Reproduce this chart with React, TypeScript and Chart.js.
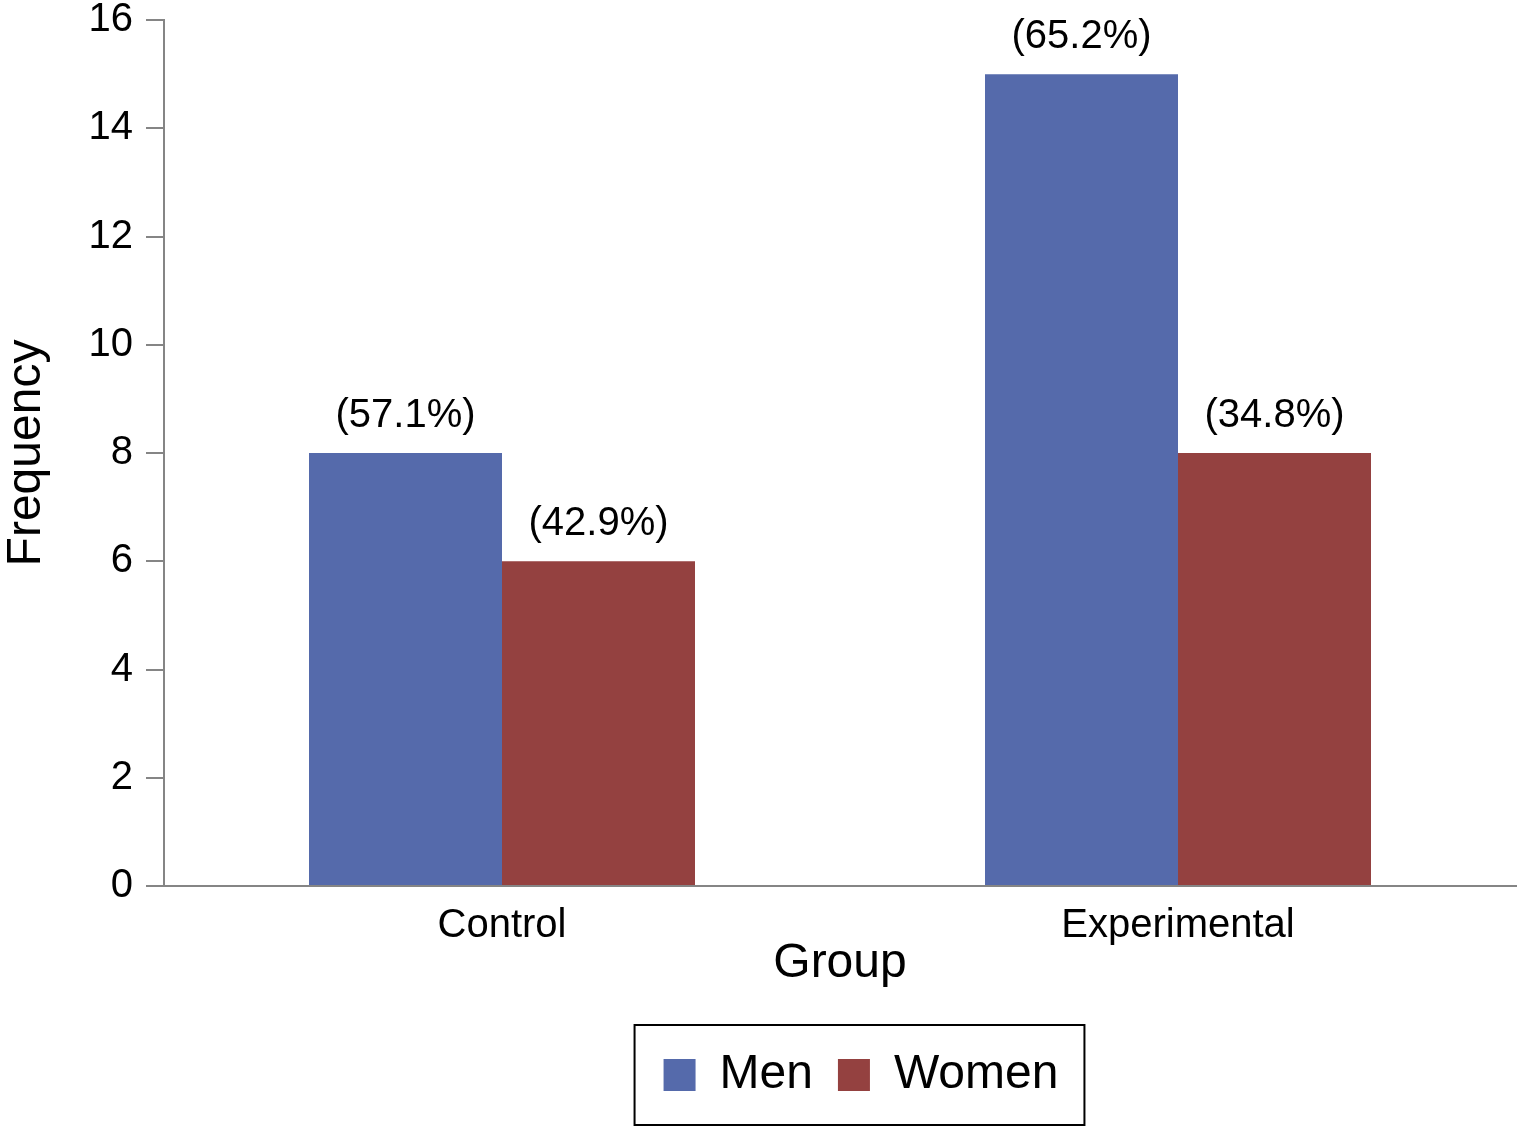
import React, { useEffect, useRef } from 'react';
import { Chart, registerables } from 'chart.js';

Chart.register(...registerables);

const categories = ['Control', 'Experimental'];
const menValues = [8, 15];
const womenValues = [6, 8];
const menPct = ['(57.1%)', '(65.2%)'];
const womenPct = ['(42.9%)', '(34.8%)'];
const seriesNames = ['Men', 'Women'];

const FONT = "'Liberation Sans', Arial, Helvetica, sans-serif";
const AXIS_GRAY = '#858585';

const dataLabelPlugin = {
  id: 'pctLabels',
  afterDatasetsDraw(chart: any) {
    const ctx = chart.ctx;
    ctx.save();
    ctx.font = `40px ${FONT}`;
    ctx.fillStyle = '#000';
    ctx.textAlign = 'center';
    ctx.textBaseline = 'alphabetic';
    chart.data.datasets.forEach((ds: any, i: number) => {
      const meta = chart.getDatasetMeta(i);
      meta.data.forEach((bar: any, j: number) => {
        ctx.fillText(ds.pctLabels[j], bar.x, bar.y - 26);
      });
    });
    ctx.restore();
  },
};

const legendFramePlugin = {
  id: 'legendFrame',
  afterLayout(chart: any) {
    const l = chart.legend;
    if (l) {
      l.left += 21;
      l.right += 21;
    }
  },
  afterDraw(chart: any) {
    const l = chart.legend;
    if (!l || !l.legendHitBoxes || !l.legendHitBoxes.length) return;
    const hb = l.legendHitBoxes;
    const left = Math.min(...hb.map((h: any) => h.left)) - 29;
    const right = Math.max(...hb.map((h: any) => h.left + h.width)) + 26;
    const cy = hb[0].top + hb[0].height / 2;
    const ctx = chart.ctx;
    ctx.save();
    ctx.strokeStyle = '#000';
    ctx.lineWidth = 2;
    ctx.strokeRect(left, cy - 50, right - left, 100);
    ctx.restore();
  },
};

export default function App() {
  const canvasRef = useRef<HTMLCanvasElement | null>(null);

  useEffect(() => {
    if (!canvasRef.current) return;
    const chart = new Chart(canvasRef.current, {
      type: 'bar',
      data: {
        labels: categories,
        datasets: [
          {
            label: seriesNames[0],
            data: menValues,
            backgroundColor: '#556aab',
            pctLabels: menPct,
          } as any,
          {
            label: seriesNames[1],
            data: womenValues,
            backgroundColor: '#944140',
            pctLabels: womenPct,
          } as any,
        ],
      },
      options: {
        animation: false,
        responsive: true,
        maintainAspectRatio: false,
        datasets: {
          bar: {
            categoryPercentage: 0.571,
            barPercentage: 1,
          },
        },
        layout: { padding: { top: 0, right: 1, bottom: 17, left: 0 } },
        plugins: {
          tooltip: { enabled: false },
          legend: {
            display: true,
            position: 'bottom',
            fullSize: false,
            align: 'center',
            labels: {
              boxWidth: 32,
              boxHeight: 32,
              padding: 25,
              color: '#000',
              font: { family: FONT, size: 48 },
            },
          },
        },
        scales: {
          x: {
            grid: { display: false, drawTicks: false },
            border: { display: true, color: AXIS_GRAY, width: 2 },
            ticks: {
              color: '#000',
              padding: 16,
              font: { family: FONT, size: 40 },
            },
            title: {
              display: true,
              text: 'Group',
              color: '#000',
              font: { family: FONT, size: 48 },
              padding: { top: 33, bottom: 33 },
            },
            afterFit: (s: any) => {
              s.height = 140;
            },
          },
          y: {
            min: 0,
            max: 16,
            grid: {
              display: true,
              drawOnChartArea: false,
              drawTicks: true,
              tickLength: 18,
              color: AXIS_GRAY,
              lineWidth: 2,
            },
            border: { display: true, color: AXIS_GRAY, width: 2 },
            ticks: {
              stepSize: 2,
              color: '#000',
              padding: 13,
              font: { family: FONT, size: 40, lineHeight: 1 },
            },
            title: {
              display: true,
              text: 'Frequency',
              color: '#000',
              font: { family: FONT, size: 48, lineHeight: 1 },
              padding: { top: 3, bottom: 0 },
            },
            afterFit: (s: any) => {
              s.width = 164;
              s.paddingTop = Math.max(0, s.paddingTop - 13);
              s.paddingBottom = Math.max(0, s.paddingBottom - 13);
            },
          },
        },
      } as any,
      plugins: [dataLabelPlugin, legendFramePlugin],
    });
    return () => chart.destroy();
  }, []);

  return (
    <div style={{ position: 'absolute', left: 0, top: 0, width: 1517, height: 1126, background: '#fff' }}>
      <canvas ref={canvasRef} />
    </div>
  );
}
